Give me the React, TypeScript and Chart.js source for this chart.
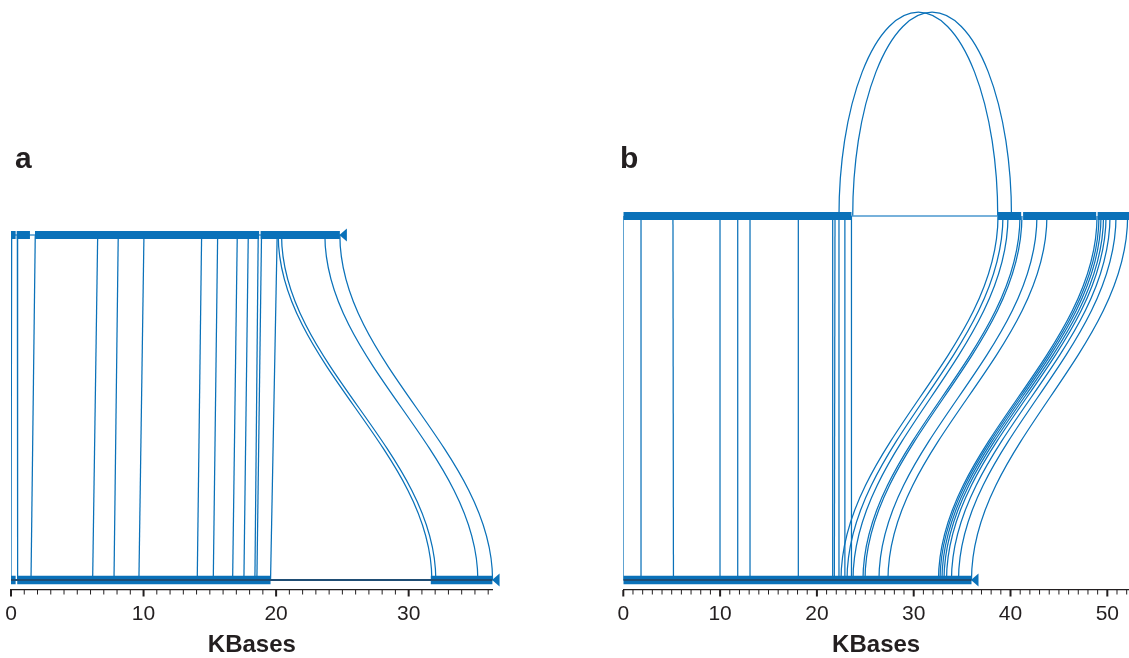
import React, { useEffect, useRef } from "react";
import { Chart, registerables } from "chart.js";

Chart.register(...registerables);

const BLUE = "#0a71b9";
const THIN_BLUE = "#4a97cf";
const DARK = "#1f4d74";
const TEXT = "#231f20";
const FONT = '"Liberation Sans", Arial, Helvetica, sans-serif';

// ---------- Panel a ----------
const A_AXIS_MAX = 36.34;
const A_TOP_SEGMENTS = [[0, 0.35], [0.43, 1.43], [1.81, 18.72], [18.83, 24.81]];
const A_TOP_THIN = [[0, 24.81]];
const A_TOP_END = 24.81;
const A_BOTTOM_SEGMENTS = [[0, 0.35], [0.47, 19.58], [31.67, 36.33]];
const A_BOTTOM_LINE = [[0, 36.33]];
const A_BOTTOM_END = 36.33;
const A_LINK_TOP = [0.05, 0.48, 1.83, 6.54, 8.09, 10.03, 14.38, 15.59, 17.07, 17.9, 18.65, 18.9, 20.08];
const A_LINK_BOTTOM = [0, 0.5, 1.51, 6.16, 7.77, 9.65, 14.05, 15.26, 16.72, 17.57, 18.4, 18.55, 19.58];
const A_CURVE_TOP = [20.16, 20.41, 23.68, 24.81];
const A_CURVE_BOTTOM = [31.75, 32.05, 35.22, 36.33];

// ---------- Panel b ----------
const B_AXIS_MAX = 52.24;
const B_TOP_SEGMENTS = [[0, 23.57], [38.68, 41.1], [41.3, 48.85], [49.0, 52.4]];
const B_TOP_THIN = [[23.57, 38.68]];
const B_BOTTOM_SEGMENTS = [[0, 35.97]];
const B_BOTTOM_LINE = [[0, 35.97]];
const B_BOTTOM_END = 35.97;
const B_LINK_TOP = [0, 1.83, 5.13, 9.99, 11.82, 13.09, 18.08, 21.63, 21.87, 22.28, 22.89, 23.57];
const B_LINK_BOTTOM = [0, 1.83, 5.18, 9.99, 11.82, 13.09, 18.08, 21.63, 21.8, 22.28, 22.89, 23.57];
const B_CURVE_TOP = [38.71, 39.22, 39.74, 40.98, 41.18, 42.73, 43.76, 48.94, 49.14, 49.35, 49.61, 49.87, 50.28, 50.9, 52.1];
const B_CURVE_BOTTOM = [22.49, 23.11, 23.73, 24.76, 24.97, 26.41, 27.34, 32.56, 32.72, 32.92, 33.13, 33.39, 33.9, 34.63, 35.97];
const B_ARC_START = [22.28, 23.7];
const B_ARC_END = [38.68, 40.1];
const B_ARC_PEAK = 1.56;

const TICK_LABELS_A = [0, 10, 20, 30];
const TICK_LABELS_B = [0, 10, 20, 30, 40, 50];

type Panel = {
  axisMax: number;
  yMin: number;
  yMax: number;
  padLeft: number;
  padRight: number;
  width: number;
  topSegments: number[][];
  topThin: number[][];
  topEnd: number | null;
  bottomSegments: number[][];
  bottomLine: number[][];
  bottomEnd: number;
  linkTop: number[];
  linkBottom: number[];
  curveTop: number[];
  curveBottom: number[];
  arcStart: number[];
  arcEnd: number[];
  arcPeak: number;
  tickLabels: number[];
};

const TOP = 1;
const BOTTOM = 0;
const CANVAS_H = 660;

function seg(points: { x: number; y: number }[], width: number, color: string, order: number) {
  return {
    data: points,
    showLine: true,
    borderColor: color,
    backgroundColor: color,
    borderWidth: width,
    pointRadius: 0,
    pointHoverRadius: 0,
    borderCapStyle: "butt",
    tension: 0,
    fill: false,
    order,
  };
}

function makePlugin(p: Panel) {
  return {
    id: "genomeLinks",
    beforeDatasetsDraw(chart: any) {
      const xs = chart.scales.x;
      const ys = chart.scales.y;
      const ctx = chart.ctx;
      const yT = ys.getPixelForValue(TOP);
      const yB = ys.getPixelForValue(BOTTOM);
      const h = yB - yT;
      const k = 0.37;
      ctx.save();
      ctx.strokeStyle = BLUE;
      ctx.lineWidth = 1.25;
      p.curveTop.forEach((t, i) => {
        const x1 = xs.getPixelForValue(t);
        const x2 = xs.getPixelForValue(p.curveBottom[i]);
        ctx.beginPath();
        ctx.moveTo(x1, yT);
        ctx.bezierCurveTo(x1, yT + k * h, x2, yB - k * h, x2, yB);
        ctx.stroke();
      });
      const yP = ys.getPixelForValue(p.arcPeak);
      p.arcStart.forEach((s, i) => {
        const xa = xs.getPixelForValue(s);
        const xb = xs.getPixelForValue(p.arcEnd[i]);
        ctx.beginPath();
        ctx.ellipse((xa + xb) / 2, yT, (xb - xa) / 2, yT - yP, 0, Math.PI, 2 * Math.PI);
        ctx.stroke();
      });
      ctx.restore();
    },
    afterDatasetsDraw(chart: any) {
      const xs = chart.scales.x;
      const ys = chart.scales.y;
      const ctx = chart.ctx;
      const arrow = (v: number, lvl: number) => {
        const x = xs.getPixelForValue(v);
        const y = ys.getPixelForValue(lvl);
        ctx.beginPath();
        ctx.moveTo(x - 0.5, y);
        ctx.lineTo(x + 7, y - 6.5);
        ctx.lineTo(x + 7, y + 6.5);
        ctx.closePath();
        ctx.fill();
      };
      ctx.save();
      ctx.fillStyle = BLUE;
      if (p.topEnd !== null) arrow(p.topEnd, TOP);
      arrow(p.bottomEnd, BOTTOM);
      ctx.restore();
    },
    afterDraw(chart: any) {
      // tick marks: minor every 1 kb, longer/heavier at labelled values
      const xs = chart.scales.x;
      const ctx = chart.ctx;
      const y0 = chart.chartArea.bottom;
      ctx.save();
      ctx.strokeStyle = TEXT;
      xs.ticks.forEach((t: any) => {
        const major = p.tickLabels.includes(t.value);
        const x = xs.getPixelForValue(t.value);
        ctx.lineWidth = major ? 2 : 1;
        ctx.beginPath();
        ctx.moveTo(x, y0);
        ctx.lineTo(x, y0 + (major ? 6.5 : 4.5));
        ctx.stroke();
      });
      ctx.restore();
    },
  };
}

function GenomeChart({ panel }: { panel: Panel }) {
  const ref = useRef<HTMLCanvasElement | null>(null);
  useEffect(() => {
    if (!ref.current) return;
    const p = panel;
    const datasets: any[] = [];
    p.linkTop.forEach((t, i) => {
      datasets.push(seg([{ x: t, y: TOP }, { x: p.linkBottom[i], y: BOTTOM }], 1.25, BLUE, 5));
    });
    p.topThin.forEach((s) => datasets.push(seg([{ x: s[0], y: TOP }, { x: s[1], y: TOP }], 1.5, THIN_BLUE, 4)));
    p.topSegments.forEach((s) => datasets.push(seg([{ x: s[0], y: TOP }, { x: s[1], y: TOP }], 8, BLUE, 3)));
    p.bottomSegments.forEach((s) => datasets.push(seg([{ x: s[0], y: BOTTOM }, { x: s[1], y: BOTTOM }], 8.5, BLUE, 3)));
    p.bottomLine.forEach((s) => datasets.push(seg([{ x: s[0], y: BOTTOM }, { x: s[1], y: BOTTOM }], 2, DARK, 1)));

    const chart = new Chart(ref.current, {
      type: "scatter",
      data: { datasets },
      plugins: [makePlugin(p)],
      options: {
        animation: false,
        responsive: false,
        devicePixelRatio: 1,
        events: [],
        layout: { padding: { left: p.padLeft, right: p.padRight, top: 0, bottom: 0 } },
        plugins: { legend: { display: false }, tooltip: { enabled: false }, title: { display: false } },
        scales: {
          x: {
            type: "linear",
            min: 0,
            max: p.axisMax,
            border: { display: true, color: TEXT, width: 1.3 },
            grid: {
              display: true,
              drawOnChartArea: false,
              drawTicks: true,
              tickLength: 14,
              tickColor: "rgba(0,0,0,0)",
              tickWidth: 1,
            },
            ticks: {
              stepSize: 1,
              autoSkip: false,
              maxRotation: 0,
              includeBounds: false,
              color: TEXT,
              padding: 0,
              font: { family: FONT, size: 21, lineHeight: 1 },
              callback: (v: any) => (p.tickLabels.includes(Number(v)) ? String(v) : ""),
            },
            title: {
              display: true,
              text: "KBases",
              color: TEXT,
              font: { family: FONT, size: 24, weight: "bold" },
              padding: { top: 6.2, bottom: 0 },
            },
          },
          y: { type: "linear", display: false, min: p.yMin, max: p.yMax },
        },
      } as any,
    });
    return () => chart.destroy();
  }, [panel]);
  return <canvas ref={ref} width={panel.width} height={CANVAS_H} style={{ display: "block" }} />;
}

const PANEL_A: Panel = {
  axisMax: A_AXIS_MAX,
  yMin: -10 / 345,
  yMax: 580 / 345,
  padLeft: 11,
  padRight: 27.3,
  width: 520,
  topSegments: A_TOP_SEGMENTS,
  topThin: A_TOP_THIN,
  topEnd: A_TOP_END,
  bottomSegments: A_BOTTOM_SEGMENTS,
  bottomLine: A_BOTTOM_LINE,
  bottomEnd: A_BOTTOM_END,
  linkTop: A_LINK_TOP,
  linkBottom: A_LINK_BOTTOM,
  curveTop: A_CURVE_TOP,
  curveBottom: A_CURVE_BOTTOM,
  arcStart: [],
  arcEnd: [],
  arcPeak: 1,
  tickLabels: TICK_LABELS_A,
};

const PANEL_B: Panel = {
  axisMax: B_AXIS_MAX,
  yMin: -10 / 364,
  yMax: 580 / 364,
  padLeft: 23.3,
  padRight: 0,
  width: 529,
  topSegments: B_TOP_SEGMENTS,
  topThin: B_TOP_THIN,
  topEnd: null,
  bottomSegments: B_BOTTOM_SEGMENTS,
  bottomLine: B_BOTTOM_LINE,
  bottomEnd: B_BOTTOM_END,
  linkTop: B_LINK_TOP,
  linkBottom: B_LINK_BOTTOM,
  curveTop: B_CURVE_TOP,
  curveBottom: B_CURVE_BOTTOM,
  arcStart: B_ARC_START,
  arcEnd: B_ARC_END,
  arcPeak: B_ARC_PEAK,
  tickLabels: TICK_LABELS_B,
};

const letterStyle: React.CSSProperties = {
  position: "absolute",
  top: 142.6,
  fontFamily: FONT,
  fontWeight: "bold",
  fontSize: 30,
  lineHeight: "30px",
  color: TEXT,
};

export default function App() {
  return (
    <div style={{ position: "absolute", left: 0, top: 0, width: 1129, height: 658, background: "#fff", overflow: "hidden" }}>
      <div style={{ position: "absolute", left: 0, top: 0 }}>
        <GenomeChart panel={PANEL_A} />
      </div>
      <div style={{ position: "absolute", left: 600, top: 0 }}>
        <GenomeChart panel={PANEL_B} />
      </div>
      <div style={{ ...letterStyle, left: 15 }}>a</div>
      <div style={{ ...letterStyle, left: 620 }}>b</div>
    </div>
  );
}
